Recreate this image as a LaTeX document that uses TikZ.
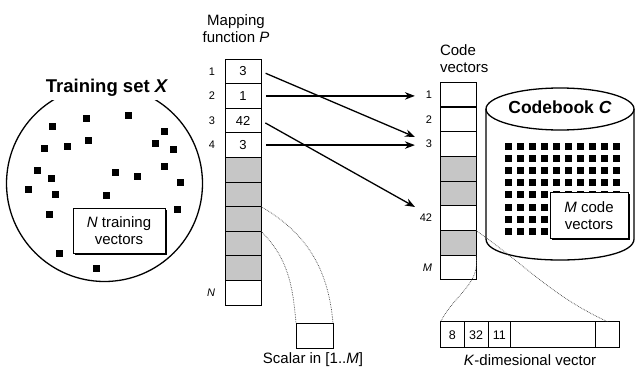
\documentclass[tikz,border=0pt]{standalone}
\usepackage{fontspec}
\setmainfont{Liberation Sans}
\usetikzlibrary{arrows.meta,shadows}
\begin{document}
\begin{tikzpicture}[x=1pt,y=-1pt,
  every node/.style={inner sep=0pt, outer sep=0pt},
  lbl/.style={font=\fontsize{15}{17}\selectfont},
  ttl/.style={font=\fontsize{17.5}{20}\selectfont\bfseries},
  idx/.style={font=\fontsize{11}{12}\selectfont, anchor=east},
  cell/.style={draw, line width=1pt, minimum width=36pt, minimum height=24.6pt, font=\fontsize{13}{14}\selectfont},
  shaded/.style={cell, fill=gray!45},
  vcell/.style={draw, line width=1pt, minimum height=26pt, font=\fontsize{12.5}{14}\selectfont},
  arr/.style={line width=1.3pt, -{Stealth[length=10pt,width=7.5pt]}},
  zoomline/.style={gray!50!black, densely dotted, line width=0.7pt},
  tagbox/.style={draw, line width=1pt, fill=white, align=center, lbl,
    drop shadow={shadow xshift=1.6pt, shadow yshift=-1.6pt, opacity=1, fill=black}}
]
\useasboundingbox (0,0) rectangle (636,369);

% ---------- Training set ----------
\draw[line width=1.3pt] (104.5,183.5) circle[radius=98];
\node[ttl, font=\fontsize{18.5}{20}\selectfont\bfseries, fill=white, inner sep=3pt] (tset) at (107,88) {Training set \textit{X}};
\foreach \x/\y in {52/126,86/118,128/115,164/131,44/148,67/146,88/140,155/143,173/149,
                   37/170,51/178,115/172,137/176,164/166,180/182,28/189,55/194,106/195,
                   177/209,49/214,59/253,96/268}
  \fill (\x-3,\y-3) rectangle +(6.5,6.5);
\node[tagbox, minimum width=92pt, minimum height=45pt] (nbox) at (119,230.5) {\textit{N} training\\vectors};

% ---------- Mapping function ----------
\node[lbl, align=center] (maplbl) at (236,29) {Mapping\\function \textit{P}};
\foreach \i/\v/\s in {1/3/cell,2/1/cell,3/42/cell,4/3/cell,5/{}/shaded,6/{}/shaded,
                      7/{}/shaded,8/{}/shaded,9/{}/shaded,10/{}/cell}
  \node[\s] (p\i) at (243,{59+24.6*(\i-0.5)}) {\v};
\foreach \i in {1,2,3,4}
  \node[idx] (pl\i) at (215,{59+24.6*(\i-0.5)}) {\i};
\node[idx] (plN) at (215,{59+24.6*9.5}) {\textit{N}};

\node[draw, line width=1pt, minimum width=37pt, minimum height=25pt] (scal) at (314.5,335.5) {};
\node[lbl] (scaltxt) at (313,360) {Scalar in [1..\textit{M}]};

% ---------- Code vectors ----------
\node[lbl, align=left, anchor=west] (codelbl) at (440,59) {Code\\vectors};
\foreach \i/\s in {1/cell,2/cell,3/cell,4/shaded,5/shaded,6/cell,7/shaded,8/cell}
  \node[\s] (c\i) at (458,{82.3+24.7*(\i-0.5)}) {};
\foreach \i/\t in {1/1,2/2,3/3,6/42,8/\textit{M}}
  \node[idx] (cl\i) at (432,{82.3+24.7*(\i-0.5)}) {\t};

% ---------- Codebook ----------
\draw[line width=1.3pt, fill=white] (486,109) -- (486,239) .. controls (486,267) and (634,267) .. (634,239) -- (634,109);
\draw[line width=1.3pt] (560,109) ellipse [x radius=74, y radius=21];
\node[ttl] (cbk) at (560,107) {Codebook \textit{C}};
\foreach \i in {0,...,9}
  \foreach \j in {0,...,7}
    \fill (508.3+12*\i-3.5,146+12.2*\j-3.5) rectangle +(7,7);
\node[tagbox, minimum width=78pt, minimum height=46pt] (mbox) at (589,215.5) {\textit{M} code\\vectors};

% ---------- K-dimensional vector ----------
\node[vcell, minimum width=23.3pt] (v1) at (452.35,334.7) {8};
\node[vcell, minimum width=24pt]   (v2) at (476,334.7) {32};
\node[vcell, minimum width=22.7pt] (v3) at (499.35,334.7) {11};
\node[vcell, minimum width=85pt]   (v4) at (553.2,334.7) {};
\node[vcell, minimum width=23.6pt] (v5) at (607.5,334.7) {};
\node[lbl] (ktxt) at (530,360) {\textit{K}-dimesional vector};

% ---------- Arrows ----------
\coordinate (t1) at (415,137);
\coordinate (t3) at (415,207);
\draw[arr, shorten <=5pt] (p1.east) -- (t1);
\draw[arr, shorten <=5pt, shorten >=11pt] (p2.east) -- (p2.east -| cl1.west);
\draw[arr, shorten <=5pt] (p3.east) -- (t3);
\draw[arr, shorten <=5pt, shorten >=11pt] (p4.east) -- (p4.east -| cl3.west);

% ---------- Zoom lines ----------
\draw[zoomline] (p7.north east) to[out=-30,in=95] (scal.north east);
\draw[zoomline] (p7.south east) to[out=-45,in=95] (scal.north west);
\draw[zoomline] (c7.north east) to[out=-35,in=155] (v5.north);
\draw[zoomline] (c7.south east) to[out=-80,in=64] (v1.north west);
\end{tikzpicture}
\end{document}
